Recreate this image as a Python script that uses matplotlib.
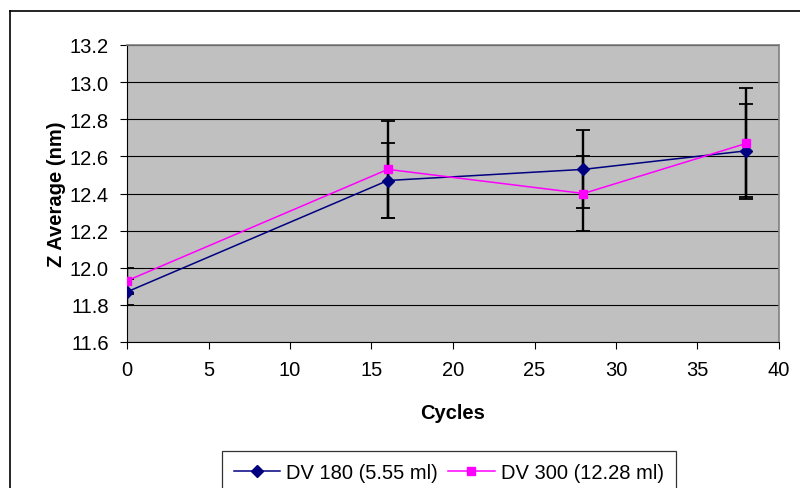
import matplotlib
matplotlib.use("Agg")
import matplotlib.pyplot as plt
from matplotlib.lines import Line2D

plt.rcParams["font.family"] = ["Liberation Sans", "DejaVu Sans"]

cycles = [0, 16, 28, 38]
dv180 = [11.87, 12.47, 12.53, 12.63]
dv180_err = [0.07, 0.20, 0.21, 0.25]
dv300 = [11.93, 12.53, 12.40, 12.67]
dv300_err = [0.07, 0.26, 0.20, 0.30]
labels = ["DV 180 (5.55 ml)", "DV 300 (12.28 ml)"]

fig = plt.figure(figsize=(8.0, 4.89), dpi=100)
ax = fig.add_axes([127 / 800, 1 - 343 / 489, (779 - 127) / 800, (343 - 46) / 489])
ax.set_facecolor("#C0C0C0")

for y, e, c, m, ms, lab in [(dv180, dv180_err, "#000080", "D", 6.0, labels[0]),
                            (dv300, dv300_err, "#FF00FF", "s", 6.0, labels[1])]:
    ax.errorbar(cycles, y, yerr=e, fmt="none", ecolor="black", elinewidth=1.7,
                capsize=5, capthick=1.3, zorder=3)
    ax.plot(cycles, y, color=c, lw=1.1, marker=m, ms=ms, mfc=c, mec=c, label=lab, zorder=4)

ax.set_xlim(0, 40)
ax.set_ylim(11.6, 13.2)
ax.set_xticks(range(0, 41, 5))
ax.set_yticks([11.6 + 0.2 * i for i in range(9)])
ax.set_yticklabels([f"{11.6 + 0.2 * i:.1f}" for i in range(9)])
ax.grid(axis="y", color="black", lw=0.8)
ax.set_axisbelow(True)
ax.tick_params(labelsize=14.5, direction="out", length=5, width=0.8, color="black")
ax.tick_params(axis="x", pad=8)
ax.tick_params(axis="y", pad=8)
for s in ("top", "right"):
    ax.spines[s].set_color("#808080")
    ax.spines[s].set_linewidth(1.2)
for s in ("left", "bottom"):
    ax.spines[s].set_color("black")
    ax.spines[s].set_linewidth(0.8)

ax.set_xlabel("Cycles", fontsize=14.5, fontweight="bold", labelpad=17)
ax.set_ylabel("Z Average (nm)", fontsize=14.5, fontweight="bold", labelpad=3)

leg = fig.legend(loc="upper left", bbox_to_anchor=(222 / 800, 1 - 452 / 489), ncol=2,
                 fontsize=14.5, frameon=True, fancybox=False, borderpad=0.6,
                 handlelength=2.3, columnspacing=0.5, handletextpad=0.3, borderaxespad=0)
leg.get_frame().set_edgecolor("black")
leg.get_frame().set_linewidth(0.9)

# outer chart-area frame (cut off at right and bottom)
fig.add_artist(Line2D([10 / 800, 1], [1 - 12 / 489] * 2, color="black", lw=1.2,
                      transform=fig.transFigure))
fig.add_artist(Line2D([10 / 800] * 2, [0, 1 - 12 / 489], color="black", lw=1.2,
                      transform=fig.transFigure))

fig.savefig("out.png", dpi=100, facecolor="white")
